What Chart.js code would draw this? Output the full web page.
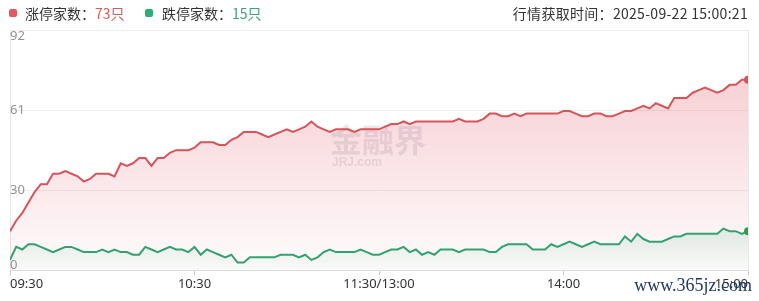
<!DOCTYPE html>
<html>
<head>
<meta charset="utf-8">
<script src="https://cdn.jsdelivr.net/npm/chart.js@4.4.1/dist/chart.umd.min.js"></script>
<style>
  html, body { margin: 0; padding: 0; background: #fff; }
  #wrap { position: relative; width: 759px; height: 301px; overflow: hidden; }
  #chart { position: absolute; left: 0; top: 0; }
  .hd { position: absolute; top: 4px; font: 14px/18px "Noto Sans CJK SC", sans-serif; color: #333; white-space: nowrap; }
  .sq { position: absolute; top: 9px; width: 8px; height: 8px; border-radius: 2px; }
</style>
</head>
<body>
<div id="wrap">
  <canvas id="chart" width="759" height="301"></canvas>
  <div class="sq" style="left:9px;background:#e25a5c"></div>
  <div class="hd" style="left:25px">涨停家数：<span style="color:#d0605f">73只</span></div>
  <div class="sq" style="left:145px;background:#2bae78"></div>
  <div class="hd" style="left:162px">跌停家数：<span style="color:#43a276">15只</span></div>
  <div class="hd" style="right:11px;letter-spacing:0.3px">行情获取时间：2025-09-22 15:00:21</div>
</div>
<script>
// one point every 2 minutes, 09:30-11:30 and 13:00-15:00
const timeLabels = [];
for (let m = 570; m <= 690; m += 2) timeLabels.push(Math.floor(m / 60) + ':' + String(m % 60).padStart(2, '0'));
for (let m = 782; m <= 900; m += 2) timeLabels.push(Math.floor(m / 60) + ':' + String(m % 60).padStart(2, '0'));

const limitUp = [
  15, 19, 22, 26, 30, 33, 33, 37, 37, 38,
  37, 36, 34, 35, 37, 37, 37, 36, 41, 40,
  41, 43, 43, 40, 43, 43, 45, 46, 46, 46,
  47, 49, 49, 49, 48, 48, 50, 51, 53, 53,
  53, 52, 51, 52, 53, 54, 53, 54, 55, 57,
  55, 54, 53, 54, 54, 54, 53, 54, 54, 54,
  54, 55, 56, 56, 57, 56, 57, 57, 57, 57,
  57, 57, 57, 58, 57, 57, 57, 58, 60, 60,
  59, 59, 60, 59, 60, 60, 60, 60, 60, 60,
  61, 61, 60, 59, 59, 60, 60, 59, 59, 60,
  61, 61, 62, 63, 62, 64, 63, 62, 66, 66,
  66, 68, 69, 70, 69, 68, 69, 71, 71, 73,
  73
];

const limitDown = [
  4, 9, 8, 10, 10, 9, 8, 7, 8, 9,
  9, 8, 7, 7, 7, 8, 7, 8, 7, 7,
  6, 6, 9, 8, 7, 8, 9, 8, 8, 7,
  9, 6, 8, 7, 6, 5, 6, 3, 3, 5,
  5, 5, 5, 5, 6, 6, 6, 5, 6, 4,
  5, 7, 8, 7, 7, 7, 7, 8, 7, 6,
  6, 7, 8, 8, 9, 7, 8, 6, 7, 6,
  8, 8, 8, 7, 8, 8, 8, 8, 7, 7,
  9, 10, 10, 10, 10, 8, 8, 8, 10, 9,
  10, 11, 10, 9, 10, 11, 10, 10, 10, 10,
  13, 11, 14, 12, 11, 11, 11, 12, 13, 13,
  14, 14, 14, 14, 14, 14, 16, 15, 15, 14,
  15
];

const xTickIndex = [0, 30, 60, 90, 120];
const xTickText = ['09:30', '10:30', '11:30/13:00', '14:00', '15:00'];
const yMax = 92;
const yTickValues = [0, 92 / 3, 184 / 3, 92];
const yTickText = ['0', '30', '61', '92'];

const last = limitUp.length - 1;

function areaFill(rgb, fromTop, alpha) {
  return (c) => {
    const area = c.chart.chartArea;
    if (!area) return 'transparent';
    const y0 = fromTop ? area.top : c.chart.scales.y.getPixelForValue(17);
    const g = c.chart.ctx.createLinearGradient(0, y0, 0, area.bottom);
    g.addColorStop(0, 'rgba(' + rgb + ',' + alpha + ')');
    g.addColorStop(1, 'rgba(' + rgb + ',0.02)');
    return g;
  };
}

// y labels sit inside the plot; the top and bottom ones are pushed inward
const yLabelPlugin = {
  id: 'yLabels',
  afterDraw(chart) {
    const c = chart.ctx, y = chart.scales.y, area = chart.chartArea;
    c.save();
    c.font = '13px "Noto Sans", sans-serif';
    c.fillStyle = '#939393';
    c.textAlign = 'left';
    yTickValues.forEach((v, i) => {
      const py = y.getPixelForValue(v);
      if (i === yTickValues.length - 1) { c.textBaseline = 'top'; c.fillText(yTickText[i], area.left, py); }
      else if (i === 0) { c.textBaseline = 'bottom'; c.fillText(yTickText[i], area.left, py + 1); }
      else { c.textBaseline = 'middle'; c.fillText(yTickText[i], area.left, py); }
    });
    c.restore();
  }
};

const watermarkPlugin = {
  id: 'watermarks',
  beforeDatasetsDraw(chart) {
    const c = chart.ctx;
    c.save();
    c.fillStyle = 'rgba(140,145,170,0.22)';
    c.textBaseline = 'top';
    c.font = 'bold 32px "Noto Sans CJK SC", sans-serif';
    c.fillText('金融界', 330, 124);
    c.font = 'bold 12px "Liberation Sans", sans-serif';
    c.fillText('JRJ.com', 332, 157);
    c.restore();
  },
  afterDraw(chart) {
    const c = chart.ctx;
    c.save();
    c.fillStyle = '#1f3868';
    c.font = '18px "Liberation Serif", serif';
    c.textBaseline = 'alphabetic';
    c.textAlign = 'right';
    c.fillText('www.365jz.com', 752, 291);
    c.restore();
  }
};

new Chart(document.getElementById('chart'), {
  type: 'line',
  data: {
    labels: timeLabels,
    datasets: [{
      label: '跌停家数',
      data: limitDown,
      borderColor: '#34a173',
      borderWidth: 2,
      backgroundColor: areaFill('46,170,120', false, 0.15),
      fill: 'origin',
      tension: 0,
      clip: 0,
      pointRadius: (c) => c.dataIndex === last ? 4 : 0,
      pointBackgroundColor: '#2f9f4f',
      pointBorderWidth: 0
    }, {
      label: '涨停家数',
      data: limitUp,
      borderColor: '#d6555b',
      borderWidth: 2,
      backgroundColor: areaFill('228,95,110', true, 0.36),
      fill: 'origin',
      tension: 0,
      clip: 0,
      pointRadius: (c) => c.dataIndex === last ? 4 : 0,
      pointBackgroundColor: '#d6555b',
      pointBorderWidth: 0
    }]
  },
  options: {
    responsive: false,
    animation: false,
    layout: { padding: { left: 10, right: 11, top: 30, bottom: 8 } },
    plugins: { legend: { display: false }, tooltip: { enabled: false } },
    scales: {
      x: {
        type: 'category',
        border: { display: true, color: '#dcdcdc' },
        grid: {
          color: (c) => c.tick && (c.tick.value === 0 || c.tick.value === last) ? '#e8e8e8' : 'transparent',
          tickColor: (c) => c.tick && xTickIndex.includes(c.tick.value) ? '#cccccc' : 'transparent',
          tickLength: 5
        },
        ticks: {
          autoSkip: false,
          maxRotation: 0,
          align: 'inner',
          padding: 1,
          color: '#333',
          font: { size: 13, family: '"Noto Sans", sans-serif' },
          callback: (v, i) => {
            const k = xTickIndex.indexOf(i);
            return k >= 0 ? xTickText[k] : null;
          }
        }
      },
      y: {
        min: 0,
        max: yMax,
        afterBuildTicks: (axis) => { axis.ticks = yTickValues.map(v => ({ value: v })); },
        border: { display: true, color: '#e8e8e8' },
        grid: { color: '#eeeeee', drawTicks: false },
        ticks: { display: false }
      }
    }
  },
  plugins: [yLabelPlugin, watermarkPlugin]
});
</script>
</body>
</html>
